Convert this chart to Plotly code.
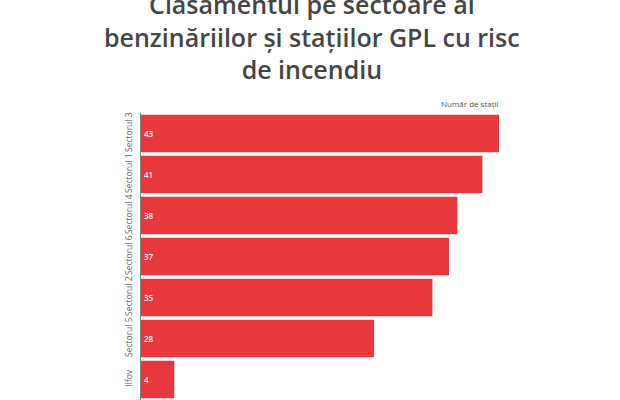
import plotly.graph_objects as go

categories = ["Sectorul 3", "Sectorul 1", "Sectorul 4", "Sectorul 6", "Sectorul 2", "Sectorul 5", "Ilfov"]
values = [43, 41, 38, 37, 35, 28, 4]
title_text = "Clasamentul pe sectoare al<br>benzinăriilor și stațiilor GPL cu risc<br>de incendiu"
axis_title = "Număr de stații"

fig = go.Figure(go.Bar(
    x=values, y=categories, orientation="h",
    marker=dict(color="#E8383D", line=dict(width=0)),
    text=[str(v) for v in values],
    textposition="inside", insidetextanchor="start",
    textfont=dict(color="white", size=8, family="Open Sans", weight=600),
    cliponaxis=False,
))

fig.update_layout(
    width=620, height=400,
    margin=dict(l=141, r=121, t=113, b=0),
    paper_bgcolor="white", plot_bgcolor="white",
    bargap=0.08,
    showlegend=False,
    xaxis=dict(range=[0, 43], showgrid=False, zeroline=False, showticklabels=False,
               showline=False, ticks=""),
    yaxis=dict(autorange="reversed", showgrid=False, zeroline=False, showline=True,
               linecolor="#808080", linewidth=1, ticks="", tickangle=-90,
               ticklabelstandoff=5,
               tickfont=dict(family="Open Sans", size=8.5, color="#666666")),
    annotations=[
        dict(text=axis_title, xref="paper", yref="paper", x=1.005, y=1.0,
             xanchor="right", yanchor="bottom", showarrow=False, yshift=2,
             font=dict(family="Open Sans", size=8, color="#555555")),
        dict(text=title_text, xref="paper", yref="paper", x=171 / 358, y=1.0,
             xanchor="center", yanchor="bottom", showarrow=False, yshift=25,
             align="center",
             font=dict(family="Open Sans", size=25, color="#454545", weight=600)),
    ],
)

fig.write_html("out.html")
